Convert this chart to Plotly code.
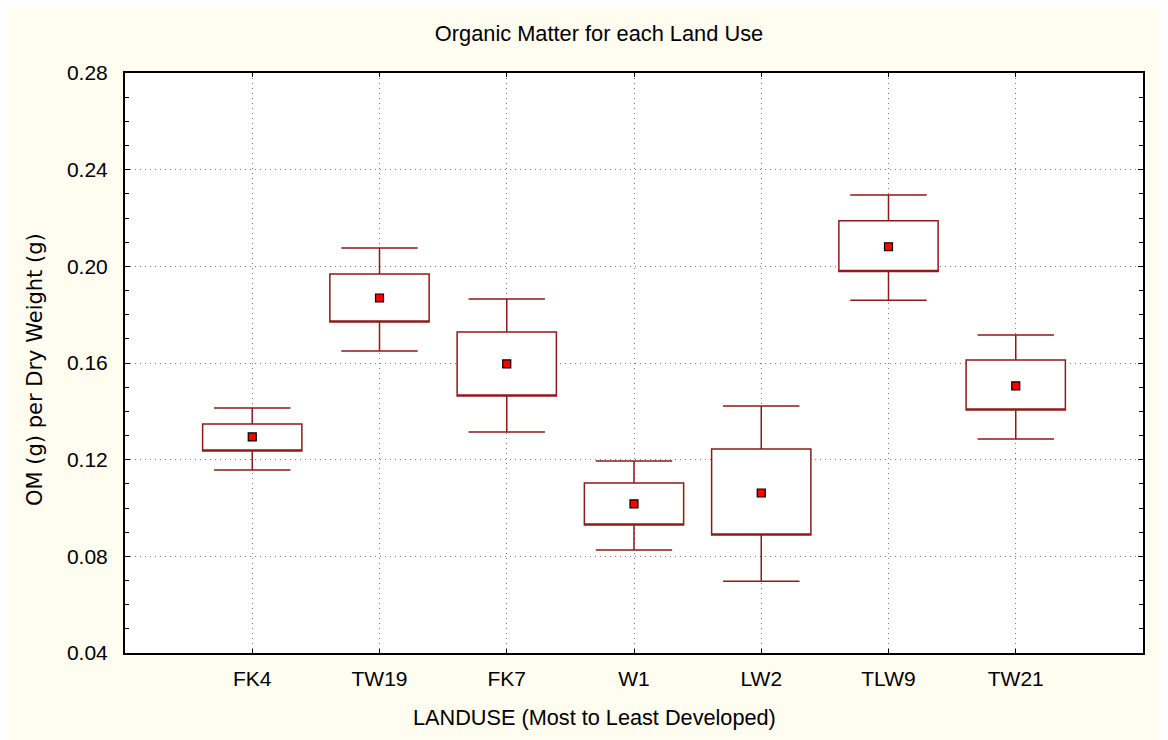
import plotly.graph_objects as go

categories = ["FK4", "TW19", "FK7", "W1", "LW2", "TLW9", "TW21"]
means = [0.1294, 0.1869, 0.1596, 0.1017, 0.1062, 0.2081, 0.1505]
box_low = [0.1236, 0.1770, 0.1463, 0.0930, 0.0888, 0.1979, 0.1406]
box_high = [0.1348, 0.1968, 0.1728, 0.1103, 0.1244, 0.2189, 0.1612]
whisk_low = [0.1157, 0.1650, 0.1314, 0.0826, 0.0697, 0.1860, 0.1286]
whisk_high = [0.1414, 0.2076, 0.1865, 0.1195, 0.1422, 0.2295, 0.1716]
y_ticks = [0.04, 0.08, 0.12, 0.16, 0.20, 0.24, 0.28]

title_text = "Organic Matter for each Land Use"
x_title = "LANDUSE (Most to Least Developed)"
y_title = "OM (g) per Dry Weight (g)"

FONT = "Liberation Sans, Arial, sans-serif"
DARKRED = "#8E1A1A"
CREAM = "#FFFCF0"
W, H = 1160, 735
OFF = 8  # page body offset

fig = go.Figure()
fig.add_trace(go.Box(
    x=categories,
    q1=box_low, median=box_low, q3=box_high,
    lowerfence=whisk_low, upperfence=whisk_high,
    width=0.78, whiskerwidth=0.77,
    fillcolor="white",
    line=dict(color=DARKRED, width=1.5),
    boxpoints=False,
    showlegend=False,
    hoverinfo="skip",
))
fig.add_trace(go.Scatter(
    x=categories, y=means, mode="markers",
    marker=dict(symbol="square", size=8, color="#FF0000",
                line=dict(color="black", width=1.2)),
    showlegend=False,
))

fig.update_layout(
    width=W, height=H,
    paper_bgcolor=CREAM, plot_bgcolor="white",
    margin=dict(l=117, r=25, t=65, b=90),
    font=dict(family=FONT, color="black", size=21),
    title=dict(text=title_text, xref="container", x=(599 - OFF) / W, xanchor="center",
               yref="container", y=1 - (33 - OFF) / H, yanchor="middle",
               font=dict(size=21.8, family=FONT)),
    showlegend=False,
)
fig.update_xaxes(
    type="category", range=[-1, 7],
    showline=True, linecolor="black", linewidth=2, mirror="allticks",
    ticks="inside", ticklen=4, tickcolor="black",
    showgrid=True, gridcolor="#777777", griddash="1px,4px", gridwidth=1,
    tickfont=dict(size=21), ticklabelstandoff=6,
    zeroline=False,
)
fig.update_yaxes(
    range=[0.04, 0.28], tickvals=y_ticks, tickformat=".2f",
    showline=True, linecolor="black", linewidth=2, mirror="allticks",
    ticks="inside", ticklen=5, tickcolor="black",
    minor=dict(dtick=0.01, ticks="inside", ticklen=4, tickcolor="black", showgrid=False),
    showgrid=True, gridcolor="#777777", griddash="1px,4px", gridwidth=1,
    tickfont=dict(size=21), ticklabelstandoff=11,
    zeroline=False,
)
fig.add_annotation(text=x_title, xref="paper", yref="paper",
                   x=(594 - 125) / 1018, y=-(717 - 653) / 580,
                   xanchor="center", yanchor="middle", showarrow=False,
                   font=dict(size=21.7, family=FONT))
fig.add_annotation(text=y_title, xref="paper", yref="paper",
                   x=(35 - 125) / 1018, y=(653 - 370) / 580, textangle=-90,
                   xanchor="center", yanchor="middle", showarrow=False,
                   font=dict(size=21, family="DejaVu Sans, sans-serif"))

fig.write_html("out.html")
